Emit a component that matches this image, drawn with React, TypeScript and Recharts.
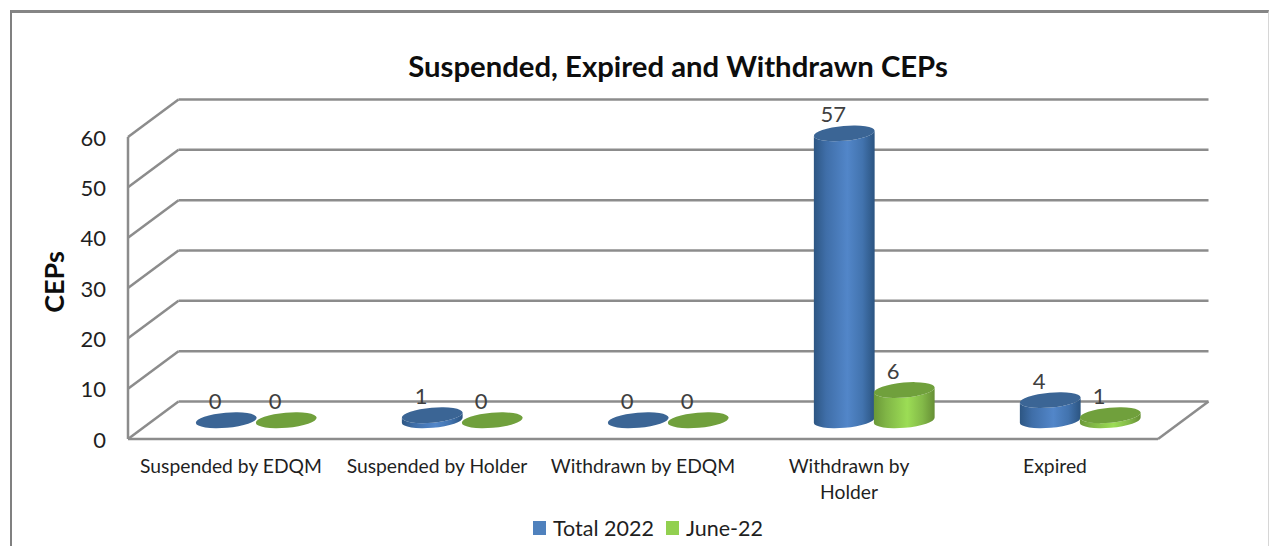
import { BarChart, Bar, XAxis, YAxis, CartesianGrid, Legend, LabelList } from "recharts";

const categories = [
  "Suspended by EDQM",
  "Suspended by Holder",
  "Withdrawn by EDQM",
  "Withdrawn by\nHolder",
  "Expired",
];
const total2022 = [0, 1, 0, 57, 4];
const june22 = [0, 0, 0, 6, 1];
const yTicks = [0, 10, 20, 30, 40, 50, 60];

const data = categories.map((name, i) => ({
  name,
  total: total2022[i],
  june: june22[i],
}));

const FONT = "Lato, 'Open Sans', sans-serif";
const LINE = "#8c8c8c";
// 3D look: the back wall sits this far behind the front plane, bars stand halfway
const DEPTH_X = 50.5;
const DEPTH_Y = 37.5;
const TILT = -5;

const tiltDx = (rx: number) => rx * Math.cos((TILT * Math.PI) / 180);
const tiltDy = (rx: number) => rx * Math.sin((TILT * Math.PI) / 180);

function Cylinder(props: any) {
  const { x, y, width, height, gradient, cap } = props;
  const rx = width / 2 + 0.5;
  const ry = 7.5;
  const cx = x + width / 2 + DEPTH_X / 2;
  const top = y - DEPTH_Y / 2;
  const bottom = top + height;
  const dx = tiltDx(rx);
  const dy = tiltDy(rx);
  const body = `M${cx - dx} ${top - dy} L${cx - dx} ${bottom - dy} A${rx} ${ry} ${TILT} 0 0 ${cx + dx} ${bottom + dy} L${cx + dx} ${top + dy} A${rx} ${ry} ${TILT} 0 1 ${cx - dx} ${top - dy} Z`;
  return (
    <g>
      {height > 0 && <path d={body} fill={`url(#${gradient})`} />}
      <ellipse cx={cx} cy={top} rx={rx} ry={ry} fill={cap} transform={`rotate(${TILT} ${cx} ${top})`} />
    </g>
  );
}

function WallLine(props: any) {
  const { x1, x2, y1 } = props;
  const isFloor = y1 > 430;
  return (
    <g stroke={LINE} strokeWidth={2.5} fill="none">
      <line x1={x1} y1={y1} x2={x1 + DEPTH_X} y2={y1 - DEPTH_Y} />
      <line x1={x1 + DEPTH_X} y1={y1 - DEPTH_Y} x2={x2 + DEPTH_X} y2={y1 - DEPTH_Y} />
      {isFloor && <line x1={x2} y1={y1} x2={x2 + DEPTH_X} y2={y1 - DEPTH_Y} />}
    </g>
  );
}

function CategoryTick(props: any) {
  const { x, y, payload } = props;
  const lines = String(payload.value).split("\n");
  return (
    <text x={x} y={y} textAnchor="middle" fontFamily={FONT} fontSize={19.3} fill="#1f1f1f">
      {lines.map((line, i) => (
        <tspan key={line} x={x} dy={i === 0 ? 0 : 26}>
          {line}
        </tspan>
      ))}
    </text>
  );
}

function ValueLabel(props: any) {
  const { x, y, width, value } = props;
  return (
    <text
      x={x + width / 2 + DEPTH_X / 2 - 11}
      y={y - DEPTH_Y / 2 - 11}
      textAnchor="middle"
      fontFamily={FONT}
      fontSize={22}
      fill="#404040"
    >
      {value}
    </text>
  );
}

function ChartLegend({ payload }: any) {
  return (
    <div style={{ display: "flex", alignItems: "center", fontFamily: FONT, fontSize: 21.5, color: "#1f1f1f" }}>
      {payload.map((item: any) => (
        <span key={item.value} style={{ display: "flex", alignItems: "center", marginRight: 12 }}>
          <span style={{ width: 13, height: 14, background: item.color, marginRight: 7 }} />
          {item.value}
        </span>
      ))}
    </div>
  );
}

export default function App() {
  return (
    <div style={{ position: "fixed", left: 0, top: 0, width: 1269, height: 546, overflow: "hidden", background: "#fff" }}>
      <div
        style={{
          position: "absolute",
          left: 10,
          top: 10,
          width: 1256,
          height: 600,
          borderLeft: "2px solid #808080",
          borderTop: "3px solid #858585",
          borderRight: "1px solid #d6d6d6",
        }}
      />
      <div
        style={{
          position: "absolute",
          left: 278,
          width: 800,
          top: 48,
          textAlign: "center",
          fontFamily: FONT,
          fontWeight: 700,
          fontSize: 29.3,
          color: "#0d0d0d",
        }}
      >
        Suspended, Expired and Withdrawn CEPs
      </div>
      <BarChart
        width={1269}
        height={546}
        data={data}
        barSize={60}
        barGap={0}
        margin={{ top: 137, right: 111, bottom: 41, left: 68 }}
        style={{ position: "absolute", left: 0, top: 0 }}
      >
        <defs>
          <linearGradient id="blueBody" x1="0" y1="0" x2="1" y2="0">
            <stop offset="0" stopColor="#2d5683" />
            <stop offset="0.2" stopColor="#3f6ea8" />
            <stop offset="0.55" stopColor="#5286c9" />
            <stop offset="0.8" stopColor="#4273ae" />
            <stop offset="1" stopColor="#2b5481" />
          </linearGradient>
          <linearGradient id="greenBody" x1="0" y1="0" x2="1" y2="0">
            <stop offset="0" stopColor="#6a9838" />
            <stop offset="0.2" stopColor="#80b546" />
            <stop offset="0.55" stopColor="#9cdd55" />
            <stop offset="0.8" stopColor="#83b948" />
            <stop offset="1" stopColor="#668f35" />
          </linearGradient>
        </defs>
        <CartesianGrid vertical={false} horizontal={(p: any) => <WallLine key={p.y1} {...p} />} />
        <XAxis
          dataKey="name"
          height={40}
          axisLine={{ stroke: LINE, strokeWidth: 2.5 }}
          tickLine={false}
          tick={<CategoryTick />}
          tickMargin={28}
          interval={0}
        />
        <YAxis
          width={60}
          domain={[0, 60]}
          ticks={yTicks}
          axisLine={{ stroke: LINE, strokeWidth: 2.5 }}
          tickLine={false}
          tickMargin={16}
          tick={{ fontFamily: FONT, fontSize: 22, fill: "#1f1f1f", dy: 1 }}
          label={{
            value: "CEPs",
            angle: -90,
            position: "left",
            offset: 14,
            dy: -6,
            style: { fontFamily: FONT, fontSize: 27, fontWeight: 700, fill: "#0d0d0d", textAnchor: "middle" },
          }}
        />
        <Legend
          content={<ChartLegend />}
          verticalAlign="bottom"
          itemSorter={null as any}
          wrapperStyle={{ position: "absolute", left: 533, top: 515, width: "auto", height: 26 }}
        />
        <Bar
          dataKey="total"
          name="Total 2022"
          fill="#4f81bd"
          isAnimationActive={false}
          shape={<Cylinder gradient="blueBody" cap="#3b6595" />}
        >
          <LabelList dataKey="total" content={<ValueLabel />} />
        </Bar>
        <Bar
          dataKey="june"
          name="June-22"
          fill="#92d050"
          isAnimationActive={false}
          shape={<Cylinder gradient="greenBody" cap="#70a03c" />}
        >
          <LabelList dataKey="june" content={<ValueLabel />} />
        </Bar>
      </BarChart>
    </div>
  );
}
